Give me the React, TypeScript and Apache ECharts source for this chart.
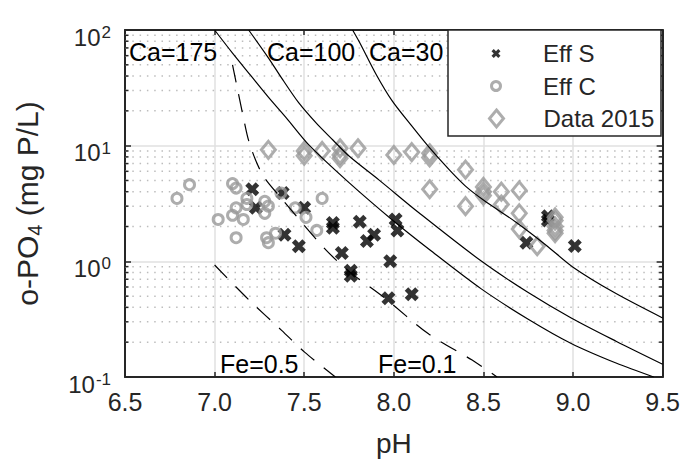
import { useEffect, useRef } from 'react';
import * as echarts from 'echarts';

const FONT = '"Liberation Sans", Arial, Helvetica, sans-serif';
const TEXT = '#262626';
const GRAY = '#999999';

const X_MIN = 6.5;
const X_MAX = 9.5;
const X_STEP = 0.5;
const Y_MIN = 0.1;
const Y_MAX = 100;

// scatter data [pH, o-PO4 mg P/L]
const effS: number[][] = [
  [7.21, 4.2], [7.23, 2.9], [7.38, 3.9], [7.39, 1.7], [7.47, 1.35], [7.5, 2.9],
  [7.66, 2.15], [7.66, 1.95], [7.71, 1.18], [7.76, 0.83], [7.76, 0.75], [7.81, 2.2],
  [7.85, 1.5], [7.89, 1.7], [8.01, 2.3], [8.02, 1.85], [7.98, 1.0], [7.97, 0.48],
  [8.1, 0.52], [8.74, 1.45], [8.86, 2.45], [8.86, 2.25], [9.01, 1.36],
];
const effC: number[][] = [
  [6.79, 3.5], [6.86, 4.6], [7.02, 2.3], [7.1, 4.7], [7.12, 4.3], [7.1, 2.5],
  [7.12, 2.9], [7.16, 2.3], [7.12, 1.6], [7.18, 3.5], [7.18, 3.1], [7.28, 3.3],
  [7.3, 3.0], [7.28, 2.6], [7.29, 1.6], [7.3, 1.45], [7.34, 1.75], [7.37, 3.9],
  [7.45, 2.9], [7.51, 2.4], [7.57, 1.85], [7.6, 3.5],
];
const data2015: number[][] = [
  [7.3, 9.2], [7.5, 9.0], [7.5, 8.2], [7.6, 9.0], [7.7, 9.5], [7.7, 8.3], [7.7, 7.8],
  [7.8, 9.5], [8.0, 8.3], [8.1, 8.8], [8.2, 8.6], [8.2, 7.9], [8.2, 4.2], [8.4, 6.2],
  [8.4, 3.0], [8.5, 4.4], [8.5, 4.0], [8.5, 3.7], [8.6, 4.0], [8.6, 3.1], [8.7, 4.1],
  [8.7, 2.6], [8.7, 1.9], [8.8, 1.35], [8.9, 2.25], [8.9, 2.0], [8.9, 1.75],
  [8.9, 2.4], [8.9, 1.85],
];

// model curves
const ca175: number[][] = [
  [7.0, 100], [7.1, 63.1], [7.2, 40.7], [7.3, 26.3], [7.4, 17.4], [7.53, 10.0],
  [7.75, 4.79], [7.99, 2.29], [8.2, 1.26], [8.49, 0.575], [8.75, 0.316],
  [8.99, 0.195], [9.24, 0.132], [9.45, 0.1],
];
const ca100: number[][] = [
  [7.19, 100], [7.3, 57.5], [7.38, 37.2], [7.47, 23.4], [7.57, 15.5], [7.66, 11.2],
  [7.75, 8.13], [7.92, 5.01], [8.14, 2.63], [8.49, 1.0], [8.75, 0.537],
  [8.99, 0.324], [9.24, 0.204], [9.5, 0.129],
];
const ca30: number[][] = [
  [7.77, 100], [7.81, 77.6], [7.9, 41.7], [7.99, 24.5], [8.1, 14.8], [8.2, 9.55],
  [8.31, 6.17], [8.4, 4.47], [8.5, 3.39], [8.68, 2.19], [8.85, 1.38], [9.0, 0.89],
  [9.23, 0.537], [9.5, 0.324],
];
const fe05: number[][] = [
  [7.0, 0.93], [7.196, 0.457], [7.374, 0.253], [7.502, 0.164], [7.674, 0.1],
];
const fe01: number[][] = [
  [7.1, 50], [7.157, 18.7], [7.196, 10.3], [7.268, 5.6], [7.374, 3.49], [7.602, 1.35],
  [7.741, 0.84], [7.947, 0.485], [8.197, 0.234], [8.437, 0.14], [8.576, 0.1],
];

const minorGrid: number[] = [
  0.2, 0.3, 0.4, 0.5, 0.6, 0.7, 0.8, 0.9,
  2, 3, 4, 5, 6, 7, 8, 9,
  20, 30, 40, 50, 60, 70, 80, 90,
];

const legendNames = ['Eff S', 'Eff C', 'Data 2015'];

const X_PATH = 'path://M0,2.5L2.5,0L5,2.5L7.5,0L10,2.5L7.5,5L10,7.5L7.5,10L5,7.5L2.5,10L0,7.5L2.5,5Z';
const DIAMOND_PATH = 'path://M7,0L14,8.5L7,17L0,8.5Z';

export default function App() {
  const ref = useRef<HTMLDivElement>(null);

  useEffect(() => {
    if (!ref.current) return;
    const chart = echarts.init(ref.current, undefined, { renderer: 'svg' });

    const curve = (name: string, data: number[][], dashed: boolean) => ({
      type: 'line',
      name,
      data,
      symbol: 'none',
      showSymbol: false,
      smooth: 0.3,
      clip: true,
      silent: true,
      lineStyle: { color: '#000', width: 1.2, type: dashed ? [18, 12] : 'solid' },
    });

    const axisLineStyle = { color: TEXT, width: 2 };
    const tickStyle = { color: TEXT, width: 1.5 };
    const legendText = { fontSize: 24, color: TEXT, fontFamily: FONT };
    const annot = (text: string, x: number, y: number) => ({
      type: 'text', z: 5, x, y,
      style: { text, fontSize: 25, fill: '#000', fontFamily: FONT, verticalAlign: 'middle' },
    });

    const option: any = {
      animation: false,
      backgroundColor: '#fff',
      textStyle: { fontFamily: FONT },
      grid: { left: 125, right: 18, top: 30, bottom: 82 },
      xAxis: [
        {
          type: 'value', min: X_MIN, max: X_MAX, interval: X_STEP, position: 'bottom',
          axisLine: { show: true, onZero: false, lineStyle: axisLineStyle },
          axisTick: { show: true, inside: true, length: 5, lineStyle: tickStyle },
          axisLabel: {
            formatter: (v: number) => v.toFixed(1), fontSize: 25, color: TEXT,
            fontFamily: FONT, margin: 12,
          },
          splitLine: { show: true, lineStyle: { color: '#e0e0e0', width: 1.5 } },
          name: 'pH', nameLocation: 'middle', nameGap: 52,
          nameTextStyle: { fontSize: 28, color: TEXT, fontFamily: FONT },
        },
        {
          type: 'value', min: X_MIN, max: X_MAX, interval: X_STEP, position: 'top',
          axisLine: { show: true, onZero: false, lineStyle: axisLineStyle },
          axisTick: { show: true, inside: true, length: 5, lineStyle: tickStyle },
          axisLabel: { show: false },
          splitLine: { show: false },
        },
      ],
      yAxis: [
        {
          type: 'log', logBase: 10, min: Y_MIN, max: Y_MAX, position: 'left',
          axisLine: { show: true, lineStyle: axisLineStyle },
          axisTick: { show: true, inside: true, length: 6, lineStyle: tickStyle },
          axisLabel: {
            margin: 14,
            formatter: (v: number) => `{b|10}{s|${Math.round(Math.log10(v))}}`,
            rich: {
              b: { fontSize: 24, lineHeight: 24, padding: [14, 0, 0, 0], color: TEXT, fontFamily: FONT },
              s: {
                fontSize: 17, lineHeight: 17, verticalAlign: 'top', padding: [6, 0, 0, 1],
                color: TEXT, fontFamily: FONT,
              },
            },
          },
          splitLine: { show: true, lineStyle: { color: '#e0e0e0', width: 1.5 } },
          name: '{a|o-PO}{sub|4}{a| (mg P/L)}',
          nameLocation: 'middle',
          nameGap: 80,
          nameTextStyle: {
            rich: {
              a: { fontSize: 30, lineHeight: 36, color: TEXT, fontFamily: FONT },
              sub: { fontSize: 20, lineHeight: 20, verticalAlign: 'bottom', color: TEXT, fontFamily: FONT },
            },
          },
        },
        {
          type: 'log', logBase: 10, min: Y_MIN, max: Y_MAX, position: 'right',
          axisLine: { show: true, lineStyle: axisLineStyle },
          axisTick: { show: true, inside: true, length: 6, lineStyle: tickStyle },
          axisLabel: { show: false },
          splitLine: { show: false },
        },
      ],
      legend: [
        {
          data: [{ name: legendNames[0], icon: X_PATH }],
          left: 491.5, top: 41.5, padding: 0, itemWidth: 84, itemHeight: 9,
          selectedMode: false, textStyle: legendText,
          itemStyle: { color: '#000', borderWidth: 0 },
        },
        {
          data: [{ name: legendNames[1], icon: 'circle' }],
          left: 490, top: 74, padding: 0, itemWidth: 84, itemHeight: 9,
          selectedMode: false, textStyle: legendText,
          itemStyle: { color: 'rgba(0,0,0,0)', borderColor: GRAY, borderWidth: 3 },
        },
        {
          data: [{ name: legendNames[2], icon: DIAMOND_PATH }],
          left: 488, top: 106.5, padding: 0, itemWidth: 84, itemHeight: 17,
          selectedMode: false, textStyle: legendText,
          itemStyle: { color: 'rgba(0,0,0,0)', borderColor: GRAY, borderWidth: 3 },
        },
      ],
      graphic: [
        {
          type: 'rect', z: 3,
          shape: { x: 448, y: 30, width: 213, height: 106 },
          style: { fill: '#fff', stroke: TEXT, lineWidth: 1.5 },
        },
        annot('Ca=175', 129, 52),
        annot('Ca=100', 267, 52),
        annot('Ca=30', 369, 52),
        annot('Fe=0.5', 220, 364),
        annot('Fe=0.1', 378, 364),
      ],
      series: [
        {
          type: 'custom',
          name: 'minor-grid',
          silent: true,
          z: 1,
          clip: false,
          data: minorGrid.map((v) => [X_MIN, v]),
          renderItem: (_params: any, api: any) => {
            const v = api.value(1);
            const p0 = api.coord([X_MIN, v]);
            const p1 = api.coord([X_MAX, v]);
            return {
              type: 'group',
              children: [
                {
                  type: 'line',
                  shape: { x1: p0[0], y1: p0[1], x2: p1[0], y2: p1[1] },
                  style: { stroke: '#bdbdbd', lineWidth: 1.5, lineDash: [1.5, 5.8] },
                },
                {
                  type: 'line',
                  shape: { x1: p0[0], y1: p0[1], x2: p0[0] + 3.5, y2: p0[1] },
                  style: { stroke: TEXT, lineWidth: 1.5 },
                },
                {
                  type: 'line',
                  shape: { x1: p1[0] - 3.5, y1: p1[1], x2: p1[0], y2: p1[1] },
                  style: { stroke: TEXT, lineWidth: 1.5 },
                },
              ],
            };
          },
        },
        {
          type: 'scatter', name: legendNames[0], data: effS, symbol: X_PATH, symbolSize: 14,
          silent: true, itemStyle: { color: '#000' },
        },
        {
          type: 'scatter', name: legendNames[1], data: effC, symbol: 'circle', symbolSize: 10,
          silent: true,
          itemStyle: { color: 'rgba(0,0,0,0)', borderColor: GRAY, borderWidth: 3 },
        },
        {
          type: 'scatter', name: legendNames[2], data: data2015, symbol: 'diamond', symbolSize: [14, 17],
          silent: true,
          itemStyle: { color: 'rgba(0,0,0,0)', borderColor: GRAY, borderWidth: 3 },
        },
        curve('Ca=175', ca175, false),
        curve('Ca=100', ca100, false),
        curve('Ca=30', ca30, false),
        curve('Fe=0.5', fe05, true),
        curve('Fe=0.1', fe01, true),
      ],
    };

    chart.setOption(option);
    return () => chart.dispose();
  }, []);

  return (
    <div
      ref={ref}
      style={{ position: 'fixed', left: 0, top: 0, width: 683, height: 462, background: '#fff' }}
    />
  );
}
